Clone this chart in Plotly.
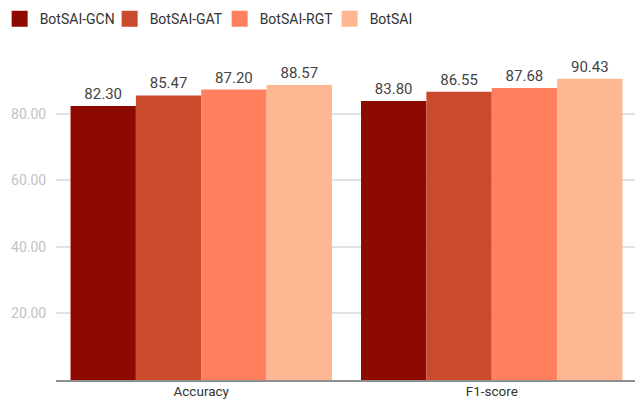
import plotly.graph_objects as go

categories = ["Accuracy", "F1-score"]
series_names = ["BotSAI-GCN", "BotSAI-GAT", "BotSAI-RGT", "BotSAI"]
gcn = [82.30, 83.80]
gat = [85.47, 86.55]
rgt = [87.20, 87.68]
botsai = [88.57, 90.43]
series_values = [gcn, gat, rgt, botsai]
colors = ["#8C0A00", "#CA4A2E", "#FF7F5F", "#FFB692"]
tick_vals = [20, 40, 60, 80]

fig = go.Figure()
for name, vals, col in zip(series_names, series_values, colors):
    fig.add_trace(go.Bar(
        x=categories, y=vals, name=name, marker=dict(color=col, line=dict(width=0)),
        text=[f"{v:.2f}" for v in vals], textposition="outside",
        textfont=dict(size=15, color="#444444", family="Roboto"),
        cliponaxis=False, showlegend=False, hoverinfo="skip",
    ))
for name, col in zip(series_names, colors):
    fig.add_trace(go.Scatter(
        x=[None], y=[None], mode="markers", name=name,
        marker=dict(symbol="square", size=18, color=col),
    ))

fig.update_layout(
    width=635, height=394,
    margin=dict(l=47.5, r=5.5, t=39, b=22, autoexpand=False),
    paper_bgcolor="white", plot_bgcolor="white",
    barmode="group", bargap=0.1, bargroupgap=0,
    font=dict(family="Roboto", size=14, color="#333333"),
    legend=dict(
        orientation="h", x=-0.097, xanchor="left", y=1.084, yanchor="middle",
        font=dict(size=14, color="#333333"),
        entrywidth=65, entrywidthmode="pixels",
        bgcolor="rgba(0,0,0,0)", itemclick=False,
    ),
    xaxis=dict(
        showgrid=False, showline=True, linecolor="#8f8f8f", linewidth=2,
        ticks="", tickfont=dict(size=13.5, color="#333333"), fixedrange=True,
        automargin=False, ticklabelstandoff=-2,
    ),
    yaxis=dict(
        range=[0, 100], tickvals=tick_vals, tickformat=".2f",
        showgrid=True, gridcolor="#e2e2e2", gridwidth=1.5,
        zeroline=False, showline=False,
        ticks="outside", tickcolor="rgba(0,0,0,0)", ticklen=6,
        tickfont=dict(size=14, color="#c2c2c2"), fixedrange=True,
        automargin=False,
    ),
)

fig.write_html("out.html")
